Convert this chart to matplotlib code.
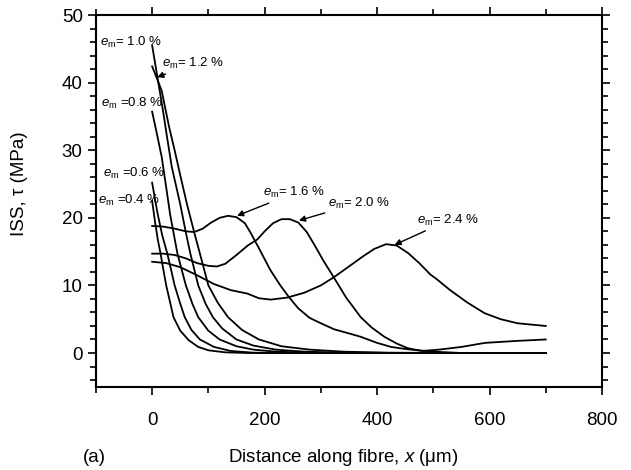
import numpy as np
import matplotlib.pyplot as plt
from matplotlib.ticker import MultipleLocator

plt.rcParams['font.family'] = ['Liberation Sans', 'DejaVu Sans']
plt.rcParams['mathtext.fontset'] = 'custom'
plt.rcParams['mathtext.rm'] = 'Liberation Sans'
plt.rcParams['mathtext.it'] = 'Liberation Sans:italic'

# ISS profiles (x in um, tau in MPa)

x_04 = [0, 5, 10, 15, 20, 25, 30, 38, 50, 65, 82, 100, 130, 170, 250, 400, 550, 700]
y_04 = [22.5, 19.5, 16.8, 14.7, 12.3, 10.0, 8.2, 5.3, 3.3, 1.9, 0.9, 0.4, 0.1, 0.0, 0.0, 0.0, 0.0, 0.0]

x_06 = [0, 5, 10, 18, 27, 34, 40, 50, 58, 70, 85, 110, 140, 180, 250, 400, 550, 700]
y_06 = [25.2, 22.8, 20.5, 17.4, 14.7, 12.2, 10.0, 7.3, 5.3, 3.4, 2.0, 0.9, 0.3, 0.05, 0.0, 0.0, 0.0, 0.0]

x_08 = [0, 8, 17, 25, 32, 45, 60, 72, 82, 100, 120, 150, 180, 220, 300, 450, 700]
y_08 = [35.7, 32.6, 29.0, 24.5, 20.5, 14.7, 10.0, 7.2, 5.3, 3.3, 2.0, 1.0, 0.5, 0.2, 0.0, 0.0, 0.0]

x_10 = [0, 10, 20, 26, 35, 50, 60, 68, 82, 95, 108, 125, 150, 180, 220, 270, 340, 450, 700]
y_10 = [45.5, 40.5, 35.5, 32.2, 27.5, 22.0, 17.8, 14.7, 10.0, 7.3, 5.3, 3.6, 2.0, 1.1, 0.5, 0.2, 0.05, 0.0, 0.0]

x_12 = [0, 10, 17, 30, 40, 50, 62, 75, 85, 100, 117, 135, 160, 190, 230, 280, 340, 420, 550, 700]
y_12 = [42.4, 40.3, 38.8, 33.5, 30.0, 26.3, 22.0, 17.8, 14.7, 10.0, 7.4, 5.3, 3.4, 2.0, 1.0, 0.5, 0.2, 0.05, 0.0, 0.0]

x_16 = [0, 20, 40, 60, 75, 90, 105, 120, 135, 150, 165, 175, 190, 210, 228, 243, 260, 280, 300,
        324, 350, 371, 400, 425, 450, 473, 500, 550, 600, 700]
y_16 = [18.8, 18.7, 18.4, 18.0, 17.9, 18.4, 19.3, 20.0, 20.3, 20.1, 19.2, 17.8, 15.5, 12.3, 10.0,
        8.3, 6.6, 5.2, 4.4, 3.5, 2.9, 2.4, 1.5, 0.9, 0.6, 0.4, 0.2, 0.0, 0.0, 0.0]

x_20 = [0, 20, 40, 60, 80, 100, 115, 130, 150, 170, 187, 200, 215, 230, 245, 260, 275, 290, 305,
        323, 345, 371, 390, 413, 435, 455, 480, 510, 550, 592, 650, 700]
y_20 = [14.7, 14.7, 14.5, 14.0, 13.3, 12.9, 12.8, 13.2, 14.5, 15.9, 16.8, 18.0, 19.2, 19.8, 19.8,
        19.3, 17.9, 15.8, 13.6, 11.2, 8.2, 5.3, 3.8, 2.4, 1.4, 0.7, 0.3, 0.5, 0.9, 1.5, 1.8, 2.0]

x_24 = [0, 25, 50, 80, 110, 140, 169, 190, 211, 240, 270, 300, 323, 350, 375, 395, 416, 435, 455,
        475, 495, 505, 530, 560, 591, 620, 650, 700]
y_24 = [13.5, 13.3, 12.7, 11.5, 10.2, 9.3, 8.8, 8.1, 7.9, 8.2, 8.9, 10.0, 11.2, 12.8, 14.3, 15.4,
        16.1, 15.9, 14.8, 13.3, 11.6, 11.0, 9.3, 7.5, 5.9, 5.0, 4.4, 4.0]

curves = [(x_04, y_04), (x_06, y_06), (x_08, y_08), (x_10, y_10), (x_12, y_12),
          (x_16, y_16), (x_20, y_20), (x_24, y_24)]

# Plot

fig = plt.figure(figsize=(6.31, 4.70), dpi=100)
ax = fig.add_axes([0.152, 0.177, 0.802, 0.791])

for cx, cy in curves:
    ax.plot(cx, cy, c='k', lw=1.3)

ax.set_xlim(-100, 800)
ax.set_ylim(-5, 50)
ax.xaxis.set_major_locator(MultipleLocator(200))
ax.xaxis.set_minor_locator(MultipleLocator(100))
ax.yaxis.set_major_locator(MultipleLocator(10))
ax.yaxis.set_minor_locator(MultipleLocator(2))
ax.tick_params(which='both', direction='out', top=True, right=True, width=1.2,
               labelsize=13.5, colors='k')
ax.tick_params(which='major', length=6)
ax.tick_params(which='minor', length=4)
ax.tick_params(axis='x', pad=12)
for s in ax.spines.values():
    s.set_linewidth(1.5)

ax.set_ylabel('ISS, τ (MPa)', fontsize=13.5)
ax.set_xlabel('Distance along fibre, $x$ (μm)', fontsize=13.5, va='center')
ax.yaxis.set_label_coords(-0.134, 0.546)
ax.xaxis.set_label_coords(0.488, -0.19)
fig.text(94 / 631, 1 - 458 / 470, '(a)', fontsize=13.5, ha='center', va='center')

# Strain labels

fs = 9.5
ax.text(-93, 46, r'$e_{\rm m}$= 1.0 %', fontsize=fs, va='center')
ax.text(-91, 36.9, r'$e_{\rm m}$ =0.8 %', fontsize=fs, va='center')
ax.text(-88, 26.5, r'$e_{\rm m}$ =0.6 %', fontsize=fs, va='center')
ax.text(-96, 22.5, r'$e_{\rm m}$ =0.4 %', fontsize=fs, va='center')

arr = dict(arrowstyle='-|>', color='k', lw=1.0, mutation_scale=9, shrinkA=0, shrinkB=0)
ax.annotate(r'$e_{\rm m}$= 1.2 %', xy=(9, 40.8), xytext=(17, 42.8), fontsize=fs,
            va='center', arrowprops=arr)
ax.annotate(r'$e_{\rm m}$= 1.6 %', xy=(151, 20.3), xytext=(198, 23.7), fontsize=fs,
            va='center', arrowprops=arr)
ax.annotate(r'$e_{\rm m}$= 2.0 %', xy=(261, 19.6), xytext=(312, 22.2), fontsize=fs,
            va='center', arrowprops=arr)
ax.annotate(r'$e_{\rm m}$= 2.4 %', xy=(431, 16.0), xytext=(471, 19.6), fontsize=fs,
            va='center', arrowprops=arr)

fig.savefig('out.png', dpi=100)
